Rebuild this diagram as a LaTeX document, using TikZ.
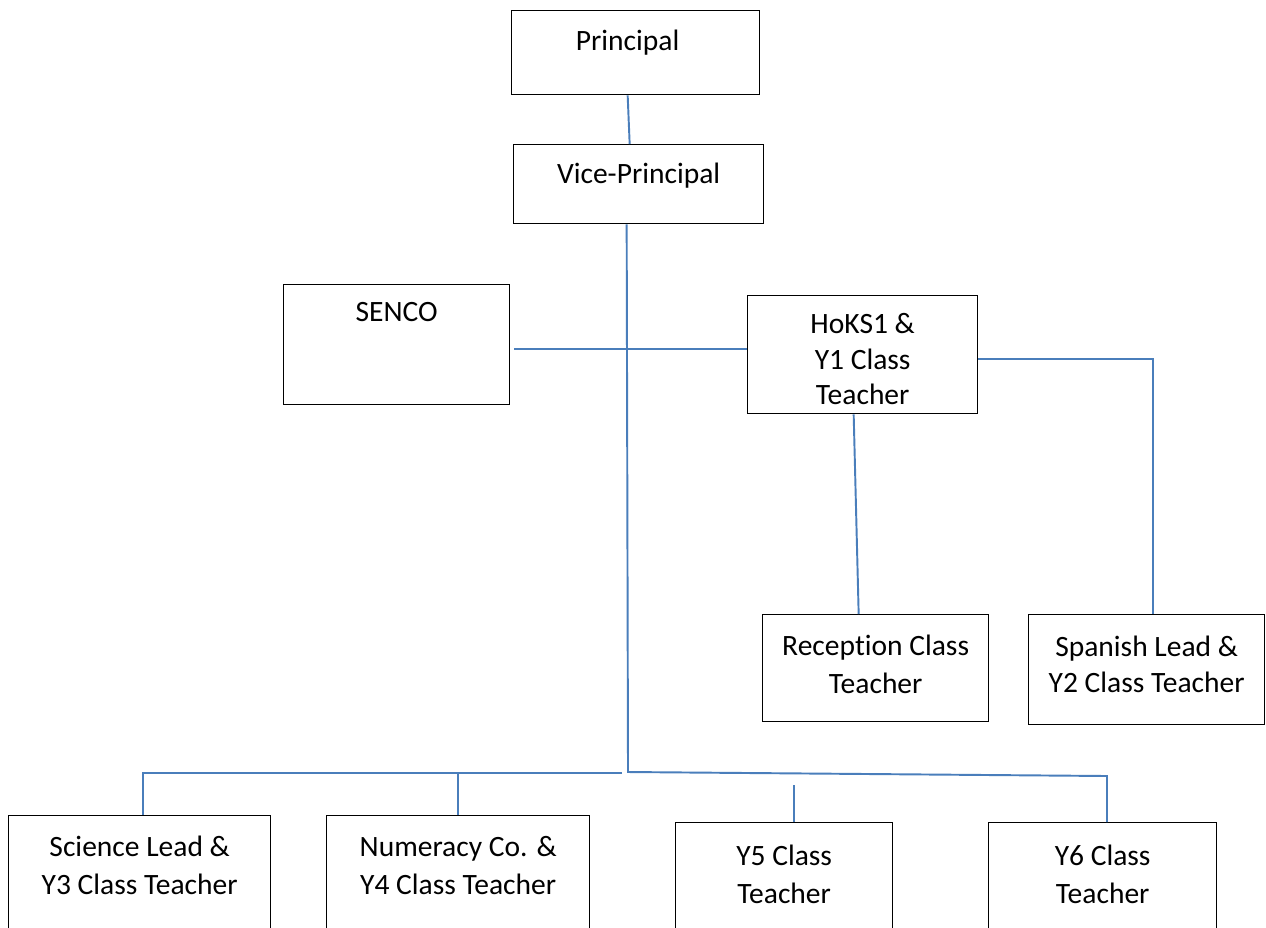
\documentclass[tikz,border=0pt]{standalone}
\usepackage{fontspec}
\setmainfont{Carlito}[Ligatures=NoCommon]
\usetikzlibrary{positioning}
\definecolor{orgline}{HTML}{4A7EBB}
\definecolor{orgink}{HTML}{000000}
\tikzset{
  post/.style={draw=orgink,line width=.75pt,anchor=north west,inner sep=0pt},
  size/.style 2 args={minimum width=#1*0.02cm,minimum height=#2*0.02cm},
  role/.style={anchor=north,align=center,inner sep=0pt,text=orgink,font=\fontsize{16.8}{21.5}\selectfont},
  tight/.style={font=\fontsize{16.8}{20.2}\selectfont},
  link/.style={draw=orgline,line width=1.1pt},
}
\begin{document}
\begin{tikzpicture}[x=0.02cm,y=-0.02cm]
  \useasboundingbox (0,0) rectangle (1266,927);
  \clip (0,0) rectangle (1266,927);
  % boxes
  \node[post,size={248}{84}] (prin) at (511,10) {};
  \node[post,size={250}{79}] (vp) at (513,144) {};
  \node[post,size={226}{120}] (senco) at (283,284) {};
  \node[post,size={230}{118}] (hoks) at (747,295) {};
  \node[post,size={226}{107}] (rec) at (762,614) {};
  \node[post,size={236}{110}] (span) at (1028,614) {};
  \node[post,size={262}{140}] (sci) at (8,815) {};
  \node[post,size={263}{140}] (num) at (326,815) {};
  \node[post,size={217}{140}] (yfive) at (675,822) {};
  \node[post,size={228}{140}] (ysix) at (988,822) {};
  % texts
  \node[role] (prin-t) at ([shift={(-8,20)}]prin.north) {Principal};
  \node[role] (vp-t) at ([shift={(0,19)}]vp.north) {Vice-Principal};
  \node[role] (senco-t) at ([shift={(0,18)}]senco.north) {SENCO};
  \node[role,tight] (hoks-t) at ([shift={(0,18)}]hoks.north) {HoKS1 \&\\Y1 Class\\Teacher};
  \node[role] (rec-t) at ([shift={(0,21)}]rec.north) {Reception Class\\Teacher};
  \node[role,tight] (span-t) at ([shift={(0,22)}]span.north) {Spanish Lead \&\\Y2 Class Teacher};
  \node[role] (sci-t) at ([shift={(0,21)}]sci.north) {Science Lead \&\\Y3 Class Teacher};
  \node[role] (num-t) at ([shift={(0,21)}]num.north) {Numeracy Co. \&\\Y4 Class Teacher};
  \node[role] (yfive-t) at ([shift={(0,23)}]yfive.north) {Y5 Class\\Teacher};
  \node[role] (ysix-t) at ([shift={(0,23)}]ysix.north) {Y6 Class\\Teacher};
  % bus points
  \coordinate (bus) at (628,772);
  \coordinate (busr) at (1107,776);
  \coordinate (busl) at (622,773);
  % connectors
  \draw[link] ([shift={(-8,0)}]prin.south) -- ([shift={(-9,0)}]vp.north);
  \draw[link] ([shift={(-12,0)}]vp.south) -- (bus) -- (busr) -- (ysix.north -| busr);
  \draw[link] ([shift={(4,4)}]senco.east) -- ([shift={(0,-6)}]hoks.west);
  \draw[link] ([shift={(0,4)}]hoks.east) -| ([shift={(6,0)}]span.north);
  \draw[link] ([shift={(-9,0)}]hoks.south) -- ([shift={(-17,0)}]rec.north);
  \draw[link] (busl) -| ([shift={(3,0)}]sci.north);
  \draw[link] (num.north) -- (num.north |- busl);
  \draw[link] ([shift={(10,0)}]yfive.north) -- ([shift={(10,-37)}]yfive.north);
\end{tikzpicture}
\end{document}
